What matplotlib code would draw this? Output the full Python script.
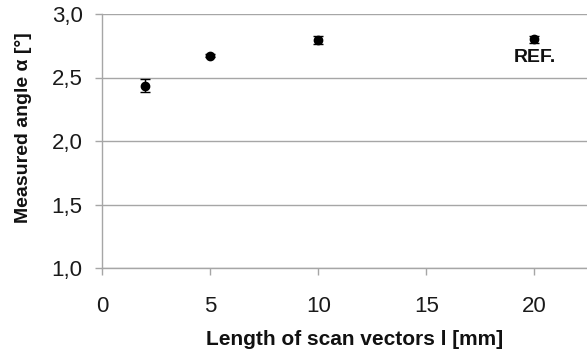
import matplotlib
matplotlib.use("Agg")
import matplotlib.pyplot as plt
from matplotlib.ticker import FuncFormatter

# Scan vector length [mm] vs. measured angle [deg]
scan_length = [2, 5, 10, 20]
angle_mean = [2.435, 2.672, 2.795, 2.80]
angle_err = [0.053, 0.010, 0.035, 0.030]
ref_label = "REF."

x_ticks = [0, 5, 10, 15, 20]
y_ticks = [1.0, 1.5, 2.0, 2.5, 3.0]

plt.rcParams['font.family'] = ['Liberation Sans', 'DejaVu Sans']

fig = plt.figure(figsize=(5.87, 3.59), dpi=100)
ax = fig.add_axes([102 / 587, 1 - 268 / 359, 1 - 102 / 587 + 0.01, 254 / 359])

grid_color = '#a6a6a6'
ax.set_ylim(1.0, 3.0)
ax.set_xlim(0, 22.7)
ax.set_yticks(y_ticks)
ax.set_xticks(x_ticks)
ax.yaxis.grid(True, color=grid_color, linewidth=1.0)
ax.set_axisbelow(True)

for side in ('top', 'right'):
    ax.spines[side].set_visible(False)
for side in ('left', 'bottom'):
    ax.spines[side].set_color(grid_color)
    ax.spines[side].set_linewidth(1.0)

ax.tick_params(axis='both', direction='out', length=5, width=1.0,
               color=grid_color, labelsize=16, labelcolor='#1a1a1a')
ax.tick_params(axis='y', pad=9)
ax.tick_params(axis='x', pad=15)
ax.yaxis.set_major_formatter(FuncFormatter(lambda v, p: f"{v:.1f}".replace('.', ',')))

ax.errorbar(scan_length, angle_mean, yerr=angle_err, fmt='o', color='black',
            markersize=6, ecolor='black', elinewidth=1.0, capsize=3.5,
            capthick=1.0, clip_on=False, zorder=3)

ax.text(scan_length[-1], angle_mean[-1] - 0.14, ref_label, ha='center',
        va='center', fontsize=14, fontweight='bold', color='#111111')

ax.set_xlabel("Length of scan vectors l [mm]", fontsize=15, fontweight='bold',
              color='#111111')
ax.set_ylabel("Measured angle α [°]", fontsize=14, fontweight='bold',
              color='#111111')
ax.xaxis.set_label_coords(0.515, -0.245)
ax.yaxis.set_label_coords(-0.142, 0.553)

fig.savefig("out.png", dpi=100)
